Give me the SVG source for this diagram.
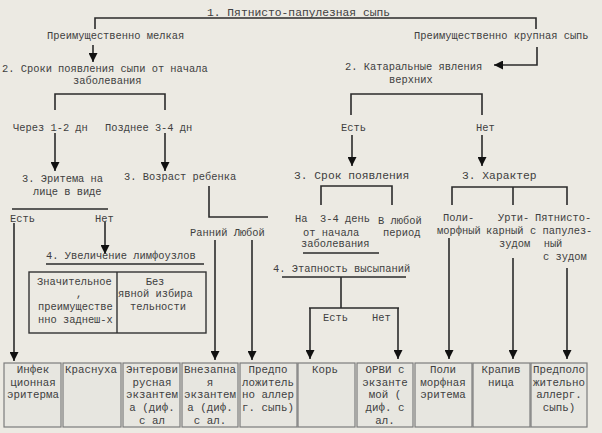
<svg xmlns="http://www.w3.org/2000/svg" width="602" height="433" viewBox="0 0 602 433">
<style>
text{font-family:"Liberation Mono","Courier New",monospace;font-size:10.4px;fill:#404040}
.big{font-size:11.3px}
.bx{font-size:10.8px;text-anchor:middle}
.ln{fill:none;stroke:#2b2b2b;stroke-width:1.6}
.box{fill:#E7E6E0;stroke:#7c7c7c;stroke-width:1.2}
.lbox{fill:none;stroke:#333;stroke-width:1.4}
.arr{fill:none;stroke:#2b2b2b;stroke-width:1.6;marker-end:url(#ah)}
</style>
<defs>
<marker id="ah" viewBox="0 0 10 10" refX="10" refY="5" markerWidth="10" markerHeight="9" markerUnits="userSpaceOnUse" orient="auto">
<path d="M0,0 L10,5 L0,10 z" fill="#111"/>
</marker>
</defs>
<rect x="0" y="0" width="602" height="433" fill="#ECEAE3"/>

<g id="connectors">
<polyline class="ln" points="95,29 95,18 536,18 536,29"/>
<line class="arr" x1="93" y1="45" x2="93" y2="62"/>
<polyline class="arr" points="537,47 537,65 494,65"/>
<polyline class="ln" points="55,110 55,94 165,94 165,110"/>
<polyline class="ln" points="351,115 351,94 482,94 482,115"/>
<line class="arr" x1="55" y1="133" x2="55" y2="171"/>
<line class="arr" x1="165" y1="133" x2="165" y2="171"/>
<line class="arr" x1="352" y1="135" x2="352" y2="166"/>
<line class="arr" x1="482" y1="135" x2="482" y2="166"/>
<polyline class="ln" points="209,186 209,217 268,217"/>
<line class="ln" x1="12" y1="209" x2="108" y2="209"/>
<line class="arr" x1="14" y1="223" x2="14" y2="361"/>
<line class="arr" x1="105" y1="222" x2="105" y2="254"/>
<line class="ln" x1="46" y1="264" x2="204" y2="264"/>
<line class="arr" x1="215" y1="240" x2="215" y2="360"/>
<line class="arr" x1="252" y1="240" x2="252" y2="360"/>
<polyline class="ln" points="321,205 321,186 392,186 392,205"/>
<line class="ln" x1="303" y1="253" x2="379" y2="253"/>
<line class="ln" x1="282" y1="277" x2="406" y2="277"/>
<line class="ln" x1="341" y1="277" x2="341" y2="308"/>
<line class="ln" x1="309" y1="308" x2="399" y2="308"/>
<line class="arr" x1="310" y1="308" x2="310" y2="359"/>
<line class="arr" x1="398" y1="308" x2="398" y2="359"/>
<polyline class="ln" points="452,205 452,187 567,187 567,205"/>
<line class="ln" x1="513" y1="187" x2="513" y2="205"/>
<line class="arr" x1="449" y1="238" x2="449" y2="359"/>
<line class="arr" x1="513" y1="258" x2="513" y2="359"/>
<line class="arr" x1="567" y1="268" x2="567" y2="359"/>
</g>

<g id="n-title"><text class="big" x="207" y="16">1. Пятнисто-папулезная сыпь</text></g>
<g id="n-small"><text x="47" y="39">Преимущественно мелкая</text></g>
<g id="n-large"><text x="414" y="39">Преимущественно крупная сыпь</text></g>
<g id="n-terms"><text x="2" y="72">2. Сроки появления сыпи от начала</text><text x="73" y="84">заболевания</text></g>
<g id="n-catarrh"><text x="345" y="70">2. Катаральные явления</text><text x="389" y="83">верхних</text></g>
<g id="n-12"><text x="13" y="131">Через 1-2 дн</text></g>
<g id="n-34"><text x="105" y="131">Позднее 3-4 дн</text></g>
<g id="n-yes1"><text x="341" y="131">Есть</text></g>
<g id="n-no1"><text x="476" y="131">Нет</text></g>
<g id="n-erythema"><text x="22" y="182">3. Эритема на</text><text x="33" y="195">лице в виде</text></g>
<g id="n-age"><text x="124" y="180">3. Возраст ребенка</text></g>
<g id="n-onset"><text class="big" x="294" y="179">3. Срок появления</text></g>
<g id="n-char"><text class="big" x="462" y="179">3. Характер</text></g>
<g id="n-yes2"><text x="10" y="222">Есть</text></g>
<g id="n-no2"><text x="95" y="222">Нет</text></g>
<g id="n-earlyany"><text x="190" y="236">Ранний Любой</text></g>
<g id="n-onset-a"><text x="295" y="222">На</text><text x="303" y="236">от начала</text><text x="301" y="247">заболевания</text></g>
<g id="n-onset-b"><text x="320" y="222">3-4 день</text></g>
<g id="n-onset-c"><text x="378" y="224">В любой</text><text x="383" y="236">период</text></g>
<g id="n-poly"><text x="443" y="221">Поли-</text><text x="437" y="234">морфный</text></g>
<g id="n-urti"><text x="498" y="221">Урти-</text><text x="486" y="234">карный</text><text x="499" y="247">зудом</text></g>
<g id="n-spot"><text x="535" y="221">Пятнисто-</text><text x="530" y="234">с папулез-</text><text x="553" y="247" text-anchor="middle">ный</text><text x="543" y="260">с зудом</text></g>
<g id="n-lymph"><text x="46" y="259">4. Увеличение лимфоузлов</text></g>
<g id="n-lymphbox">
<rect class="lbox" x="29" y="272" width="177" height="61"/>
<line class="lbox" x1="117" y1="272" x2="117" y2="333"/>
<text x="37" y="285">Значительное</text><text x="76" y="297">,</text><text x="38" y="310">преимуществе</text><text x="38" y="323">нно заднеш-х</text>
<text x="155" y="285" text-anchor="middle">Без</text><text x="118" y="297">явной избира</text><text x="158" y="310" text-anchor="middle">тельности</text>
</g>
<g id="n-stage"><text x="273" y="272">4. Этапность высыпаний</text></g>
<g id="n-yes3"><text x="323" y="321">Есть</text></g>
<g id="n-no3"><text x="372" y="321">Нет</text></g>

<g id="b1"><rect class="box" x="4" y="363" width="57" height="64"/><text class="bx" x="33" y="373">Инфек</text><text class="bx" x="33" y="386">ционная</text><text class="bx" x="33" y="398">эритерма</text></g>
<g id="b2"><rect class="box" x="63" y="363" width="58" height="64"/><text class="bx" x="91" y="373">Краснуха</text></g>
<g id="b3"><rect class="box" x="123" y="363" width="57" height="64"/><text class="bx" x="152" y="373">Энтерови</text><text class="bx" x="152" y="386">русная</text><text class="bx" x="152" y="398">экзантем</text><text class="bx" x="152" y="411">а (диф.</text><text class="bx" x="152" y="424">с ал</text></g>
<g id="b4"><rect class="box" x="182" y="363" width="56" height="64"/><text class="bx" x="210" y="373">Внезапна</text><text class="bx" x="210" y="386">я</text><text class="bx" x="210" y="398">экзантем</text><text class="bx" x="210" y="411">а (диф.</text><text class="bx" x="210" y="424">с ал.</text></g>
<g id="b5"><rect class="box" x="240" y="363" width="57" height="64"/><text class="bx" x="268" y="373">Предпо</text><text class="bx" x="268" y="386">ложитель</text><text class="bx" x="268" y="398">но аллер</text><text class="bx" x="268" y="411">г. сыпь)</text></g>
<g id="b6"><rect class="box" x="298" y="363" width="57" height="64"/><text class="bx" x="325" y="373">Корь</text></g>
<g id="b7"><rect class="box" x="357" y="363" width="56" height="64"/><text class="bx" x="385" y="373">ОРВИ с</text><text class="bx" x="385" y="386">экзанте</text><text class="bx" x="385" y="398">мой (</text><text class="bx" x="385" y="411">диф. с</text><text class="bx" x="385" y="424">ал.</text></g>
<g id="b8"><rect class="box" x="415" y="363" width="57" height="64"/><text class="bx" x="443" y="373">Поли</text><text class="bx" x="443" y="386">морфная</text><text class="bx" x="443" y="398">эритема</text></g>
<g id="b9"><rect class="box" x="473" y="363" width="57" height="64"/><text class="bx" x="501" y="373">Крапив</text><text class="bx" x="501" y="386">ница</text></g>
<g id="b10"><rect class="box" x="531" y="363" width="56" height="64"/><text class="bx" x="559" y="373">Предполо</text><text class="bx" x="559" y="386">жительно</text><text class="bx" x="559" y="398">аллерг.</text><text class="bx" x="559" y="411">сыпь)</text></g>
</svg>
